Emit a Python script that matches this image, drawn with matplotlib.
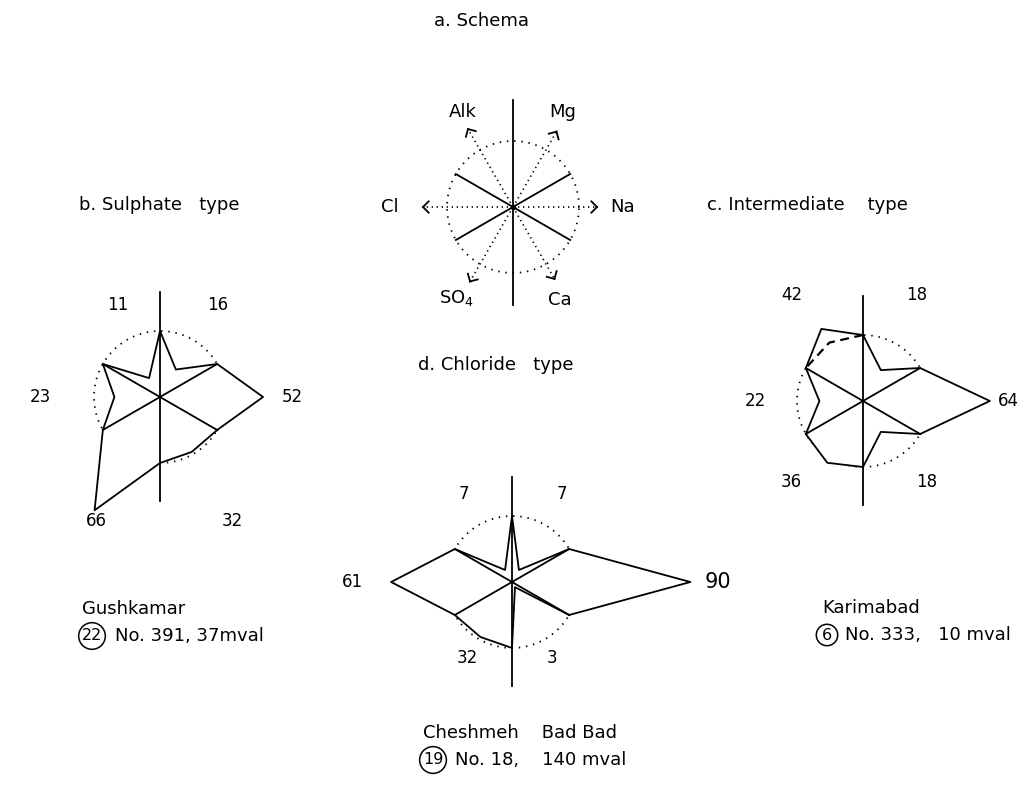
import numpy as np
import matplotlib.pyplot as plt

# ion order round the star: Na (0 deg), Mg (60), Alk (120), Cl (180), SO4 (240), Ca (300)
ions = ['Na', 'Mg', 'Alk', 'Cl', 'SO$_4$', 'Ca']
sulphate = [52, 16, 11, 23, 66, 32]
intermediate = [64, 18, 42, 22, 36, 18]
chloride = [90, 7, 7, 61, 32, 3]
intermediate_alk_alt = 34   # dashed Alk outline in c

R = 66            # radius of the dotted circle (33.3 %)
scale = R / 33.3  # pixels per percent

fig = plt.figure(figsize=(10.29, 7.85), dpi=100)
ax = fig.add_axes([0, 0, 1, 1])
ax.set_xlim(0, 1029)
ax.set_ylim(785, 0)
ax.axis('off')

def pol(cx, cy, r, deg):
    a = np.radians(deg)
    return cx + r*np.cos(a), cy - r*np.sin(a)

def dotted_circle(cx, cy):
    t = np.linspace(0, 2*np.pi, 300)
    ax.plot(cx + R*np.cos(t), cy - R*np.sin(t), color='k', lw=1.3, ls=(0, (0.8, 3.2)), zorder=1)

def star(cx, cy, vals, alt=None):
    dotted_circle(cx, cy)
    xs, ys = [], []
    for i, v in enumerate(vals):
        x, y = pol(cx, cy, R, 60*i - 30)
        xs.append(x); ys.append(y)
        x, y = pol(cx, cy, v*scale, 60*i)
        xs.append(x); ys.append(y)
    ax.fill(xs, ys, fc='white', ec='none', zorder=2)
    ax.plot(xs + xs[:1], ys + ys[:1], color='k', lw=1.3, zorder=3)
    for ang in [30, 150, 210, 330]:
        x, y = pol(cx, cy, R, ang)
        ax.plot([cx, x], [cy, y], color='k', lw=1.3, zorder=3)
    ax.plot([cx, cx], [cy-105, cy+104], color='k', lw=1.3, zorder=3)
    if alt is not None:
        p = [pol(cx, cy, R, 90), pol(cx, cy, alt*scale, 120), pol(cx, cy, R, 150)]
        ax.plot([q[0] for q in p], [q[1] for q in p], color='k', lw=1.6,
                ls=(0, (4, 2.5)), zorder=3)

def labels(cx, cy, vals, offs, big=None):
    for i, (v, (dx, dy)) in enumerate(zip(vals, offs)):
        fs = 15 if i == big else 12
        ax.text(cx+dx, cy+dy, str(v), ha='center', va='center', fontsize=fs)

def site(x, y, name, num, rest, cdx, rdx):
    ax.text(x, y, name, ha='left', va='center', fontsize=13)
    ax.text(x+cdx, y+27, num, ha='center', va='center', fontsize=11.5,
            bbox=dict(boxstyle='circle,pad=0.2', fc='none', ec='k', lw=1.1))
    ax.text(x+rdx, y+27, rest, ha='left', va='center', fontsize=13)

# a. schema
cx, cy = 513, 207
dotted_circle(cx, cy)
for ang in [30, 150, 210, 330]:
    x, y = pol(cx, cy, R, ang)
    ax.plot([cx, x], [cy, y], color='k', lw=1.3)
ax.plot([cx, cx], [cy-107, cy+98], color='k', lw=1.3)
ax.plot(cx, cy, 'ko', ms=3)
arrow_len = [84, 87, 90, 90, 86, 83]
lab_pos = [(623, 207), (563, 112), (463, 112), (390, 207), (457, 298), (560, 300)]
for i, (L, ion, (lx, ly)) in enumerate(zip(arrow_len, ions, lab_pos)):
    ang = 60*i
    x, y = pol(cx, cy, L, ang)
    ax.plot([cx, x], [cy, y], color='k', lw=1.2, ls=(0, (0.8, 2.2)))
    for w in [ang + 180 - 45, ang + 180 + 45]:
        wx, wy = pol(x, y, 8, w)
        ax.plot([x, wx], [y, wy], color='k', lw=1.3)
    ax.text(lx, ly, ion, ha='center', va='center', fontsize=13)

ax.text(481, 21, 'a. Schema', ha='center', va='center', fontsize=13)
ax.text(79, 205, 'b. Sulphate   type', ha='left', va='center', fontsize=13)
ax.text(707, 205, 'c. Intermediate    type', ha='left', va='center', fontsize=13)
ax.text(418, 365, 'd. Chloride   type', ha='left', va='center', fontsize=13)

# b. sulphate type
star(160, 397, sulphate)
labels(160, 397, sulphate, [(132, 0), (58, -92), (-42, -92), (-120, 0), (-64, 124), (72, 124)])
site(82, 609, 'Gushkamar', '22', 'No. 391, 37mval', 10, 33)

# c. intermediate type
star(863, 401, intermediate, alt=intermediate_alk_alt)
labels(863, 401, intermediate, [(145, 0), (54, -106), (-71, -106), (-108, 0), (-72, 81), (64, 81)])
site(822, 608, 'Karimabad', '6', 'No. 333,   10 mval', 5, 23)

# d. chloride type
star(512, 582, chloride)
labels(512, 582, chloride, [(206, 0), (50, -88), (-48, -88), (-160, 0), (-45, 76), (40, 76)], big=0)
site(423, 733, 'Cheshmeh    Bad Bad', '19', 'No. 18,    140 mval', 10, 32)

fig.savefig('out.png', dpi=100)
